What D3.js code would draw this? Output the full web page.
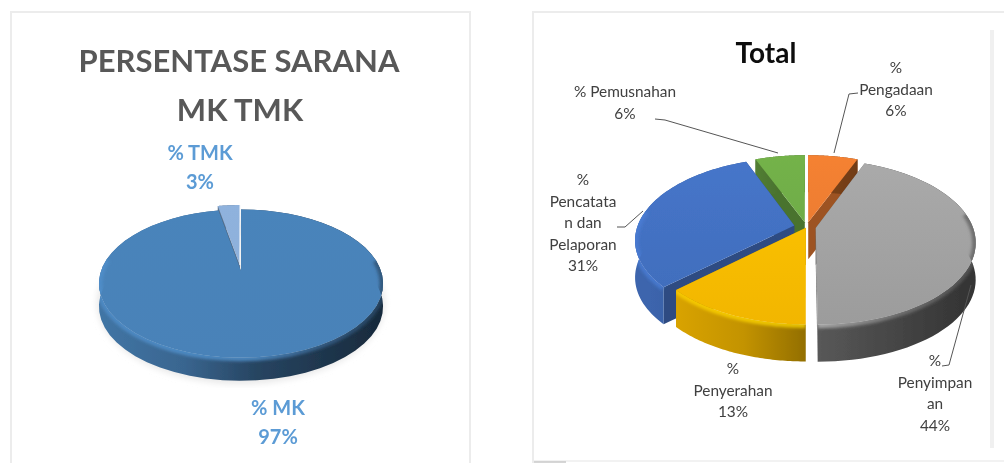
<!DOCTYPE html>
<html><head><meta charset="utf-8">
<script src="https://cdn.jsdelivr.net/npm/d3@7"></script>
<style>html,body{margin:0;background:#fff}svg{display:block}text{font-family:Lato,"Open Sans",sans-serif}</style>
</head><body><svg id="c" width="1004" height="463"></svg>
<script>
// --- data ---
const leftCategories = ["% MK", "% TMK"];
const leftValues = [97, 3];
const leftColors = ["#4a84bb", "#8fb2dd"];
const leftTitle = ["PERSENTASE SARANA", "MK TMK"];

const rightCategories = ["% Pengadaan", "% Penyimpanan", "% Penyerahan", "% Pencatatan dan Pelaporan", "% Pemusnahan"];
const rightValues = [6, 44, 13, 31, 6];
const rightColors = ["#ed7d31", "#a5a5a5", "#ffc000", "#4472c4", "#70ad47"];
const rightTitle = "Total";

const svg = d3.select("#c");
const defs = svg.append("defs");
defs.append("filter").attr("id","soft").attr("x","-20%").attr("y","-20%").attr("width","140%").attr("height","140%")
  .append("feGaussianBlur").attr("stdDeviation",1.8);
defs.append("filter").attr("id","soft3").attr("x","-20%").attr("y","-20%").attr("width","140%").attr("height","140%")
  .append("feGaussianBlur").attr("stdDeviation",3);
const blurAll = defs.append("filter").attr("id","img").attr("x","-2%").attr("y","-2%").attr("width","104%").attr("height","104%");
blurAll.append("feGaussianBlur").attr("stdDeviation",0.5);

// cards
const cards = svg.append("g");
function card(x0,y0,x1,y1){
  cards.append("rect").attr("x",x0).attr("y",y0).attr("width",x1-x0).attr("height",y1-y0)
   .attr("fill","#fff").attr("stroke","#ececec").attr("stroke-width",2);
}
card(11,12,470,470);
card(533,12,1010,470);
[[11,14,11,463,"#c4c4c4"],[470,14,470,463,"#c4c4c4"],[533,14,533,463,"#c4c4c4"]].forEach(l=>
  cards.append("line").attr("x1",l[0]).attr("y1",l[1]).attr("x2",l[2]).attr("y2",l[3]).attr("stroke",l[4]).attr("stroke-width",2.6).attr("filter","url(#img)"));
cards.append("line").attr("x1",992).attr("y1",30).attr("x2",992).attr("y2",448).attr("stroke","#f0f0f0").attr("stroke-width",4);
cards.append("line").attr("x1",534).attr("y1",461).attr("x2",1004).attr("y2",461).attr("stroke","#eeeeee").attr("stroke-width",1.5);
cards.append("line").attr("x1",534).attr("y1",462).attr("x2",566).attr("y2",462).attr("stroke","#c8c8c8").attr("stroke-width",1.5);

let gid = 0;
const dark = (c,f)=>d3.rgb(c).darker(f).formatHex();

function pie3d(g, cfg){
  const arcs = d3.pie().sort(null).value(d=>d).startAngle(0).endAngle(2*Math.PI)(cfg.values);
  // perspective projection of the unit disc through d3 linear scales
  const sx = d3.scaleLinear().domain([-1,1]).range([cfg.cx-cfg.a,cfg.cx+cfg.a]);
  const sy = d3.scaleLinear().domain([-1,1]).range([cfg.cy-cfg.b,cfg.cy+cfg.b]);
  const proj = (x,y,dz=0)=>{ const f=1/(1-cfg.k*y); return [sx(x*f), sy(y*f)+dz]; };
  const line = d3.line();
  cfg.order.forEach(i=>{
    const d = arcs[i], ex = cfg.explode[i]||0;
    const mid = (d.startAngle+d.endAngle)/2;
    const ox = ex*Math.sin(mid), oy = -ex*Math.cos(mid);
    const rim = d3.range(0,61).map(j=>{ const t=d.startAngle+(d.endAngle-d.startAngle)*j/60; return [ox+Math.sin(t), oy-Math.cos(t)]; });
    const col = cfg.colors[i];
    const top = rim.map(p=>proj(p[0],p[1]));
    const low = rim.map(p=>proj(p[0],p[1],cfg.depth));
    const A = proj(ox,oy), A2 = proj(ox,oy,cfg.depth);
    const s = g.append("g");
    // cut faces
    [[A,A2,low[0],top[0]],[A,A2,low[60],top[60]]].forEach(q=>
      s.append("path").attr("d",line(q)+"Z").attr("fill",dark(col,1.15)));
    // outer wall with horizontal gradient
    const id="w"+(gid++);
    const lg=defs.append("linearGradient").attr("id",id).attr("gradientUnits","userSpaceOnUse")
      .attr("x1",cfg.cx-cfg.a).attr("x2",cfg.cx+cfg.a).attr("y1",0).attr("y2",0);
    [[0,.35],[.3,.75],[.55,1.8],[1,3.2]].forEach(p=>lg.append("stop").attr("offset",p[0]).attr("stop-color",dark(col,p[1])));
    const wall = line(top.concat(low.slice().reverse()))+"Z";
    s.append("path").attr("d",wall).attr("fill",`url(#${id})`);
    // bevel on the front of the rim
    const face = [A].concat(top);
    const front = top.filter((p,j)=> (rim[j][1]-oy) > -0.2);
    const bid="b"+(gid++);
    const bg=defs.append("linearGradient").attr("id",bid).attr("gradientUnits","userSpaceOnUse")
      .attr("x1",cfg.cx-cfg.a).attr("x2",cfg.cx+cfg.a).attr("y1",0).attr("y2",0);
    [[0,-.25],[.55,-.35],[.8,.8],[1,1.6]].forEach(p=>bg.append("stop").attr("offset",p[0]).attr("stop-color",dark(col,p[1])));
    // top face
    const fid="t"+(gid++);
    const tg=defs.append("linearGradient").attr("id",fid).attr("gradientUnits","userSpaceOnUse")
      .attr("x1",0).attr("x2",0).attr("y1",cfg.cy-cfg.b).attr("y2",cfg.cy+cfg.b*1.2);
    tg.append("stop").attr("offset",0).attr("stop-color",d3.rgb(col).brighter(cfg.topLight).formatHex());
    tg.append("stop").attr("offset",1).attr("stop-color",dark(col,cfg.topDark));
    s.append("path").attr("d",line(face)+"Z").attr("fill",`url(#${fid})`);
    if(front.length>1){
      const fclip="cf"+(gid++);
      defs.append("clipPath").attr("id",fclip).append("path").attr("d",line(face.concat(low.slice().reverse()))+"Z");
      s.append("g").attr("clip-path",`url(#${fclip})`)
       .append("path").attr("d",line(front)).attr("fill","none").attr("stroke",`url(#${bid})`).attr("stroke-width",cfg.bevel).attr("stroke-opacity",.75).attr("filter","url(#soft)");
    }
    if(cfg.edge&&cfg.edge[i]) s.append("path").attr("d",line([A,top[60]])).attr("stroke","#ffffff").attr("stroke-width",1.2).attr("opacity",.8);
  });
}

// soft floor shadow (left pie)
const lp = svg.append("g").attr("filter","url(#img)");
lp.append("ellipse").attr("cx",241).attr("cy",303).attr("rx",144).attr("ry",81).attr("fill","#e8e8e8").attr("filter","url(#soft3)");
pie3d(lp,{values:leftValues,colors:leftColors,cx:241,cy:271,a:140,b:72,k:0.17,depth:23,
  explode:[0,0.085],order:[1,0],topLight:0,topDark:0.05,bevel:7,edge:[0,1]});

const rp = svg.append("g").attr("filter","url(#img)");
pie3d(rp,{values:rightValues,colors:rightColors,cx:806.5,cy:227,a:157,b:80,k:0.17,depth:37,
  explode:[0.06,0.06,0.01,0.08,0.06],order:[4,0,3,1,2],topLight:0.1,topDark:0.15,bevel:7});

// text
const tx = svg.append("g").attr("filter","url(#img)");
function label(x,y,lines,o){
  lines.forEach((t,i)=>tx.append("text").attr("x",x).attr("y",y+i*o.lh).attr("text-anchor","middle")
    .attr("font-size",o.fs).attr("font-weight",o.w||400).attr("fill",o.c).text(t));
}
label(239,72,[leftTitle[0]],{fs:31,w:700,c:"#595959",lh:0});
label(240,121,[leftTitle[1]],{fs:31,w:700,c:"#595959",lh:0});
const blue="#5b9bd5";
label(200,160,[leftCategories[1],leftValues[1]+"%"],{fs:20,w:700,c:blue,lh:29});
label(278,415,[leftCategories[0],leftValues[0]+"%"],{fs:20,w:700,c:blue,lh:29});
label(766,63,[rightTitle],{fs:28,w:700,c:"#111",lh:0});
const o={fs:15.4,c:"#404040",lh:21.5};
label(896,73,["%","Pengadaan",rightValues[0]+"%"],o);
label(625,97,["% Pemusnahan",rightValues[4]+"%"],o);
label(583,185,["%","Pencatata","n dan","Pelaporan",rightValues[3]+"%"],o);
label(733,374,["%","Penyerahan",rightValues[2]+"%"],o);
label(935,366,["%","Penyimpan","an",rightValues[1]+"%"],o);

// leader lines
const leaders=[[[858,93],[849,94],[834,153]],[[655,119],[665,120],[778,153]],[[617,227],[625,227],[643,211]],[[942,366],[949,365],[971,285]]];
leaders.forEach(p=>tx.append("path").attr("d",d3.line()(p)).attr("fill","none").attr("stroke","#555").attr("stroke-width",1));
</script></body></html>
